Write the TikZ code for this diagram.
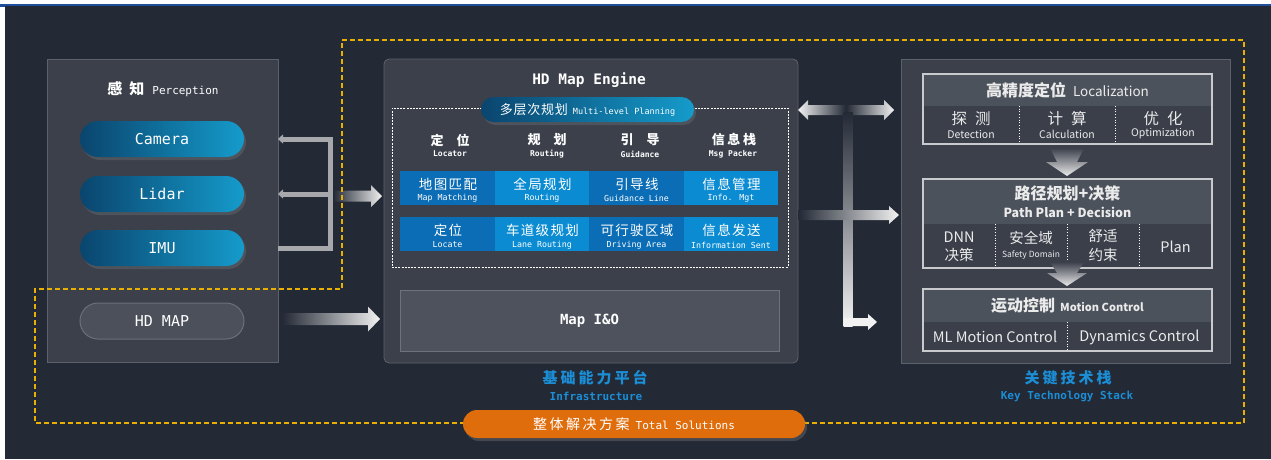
\documentclass[tikz,border=0pt]{standalone}
\usepackage{fontspec}
\setmainfont{Noto Sans CJK SC}
\newfontfamily\mono{DejaVu Sans Mono}
\usetikzlibrary{calc,shadows,arrows.meta}
\definecolor{bg}{HTML}{232935}
\definecolor{topblue}{HTML}{1F4E9A}
\definecolor{panelc}{HTML}{3B404B}
\definecolor{panelb}{HTML}{5C616B}
\definecolor{pilld}{HTML}{0A456E}
\definecolor{pilll}{HTML}{159BCB}
\definecolor{hdc}{HTML}{4B505B}
\definecolor{hdb}{HTML}{6B707A}
\definecolor{conng}{HTML}{A6A8AC}
\definecolor{arrw}{HTML}{F2F2F2}
\definecolor{celld}{HTML}{0B6DB5}
\definecolor{celll}{HTML}{0B8CD2}
\definecolor{ioc}{HTML}{4D525C}
\definecolor{iob}{HTML}{6E727B}
\definecolor{khc}{HTML}{4C525C}
\definecolor{ksc}{HTML}{3A3F4A}
\definecolor{kb}{HTML}{C8CACE}
\definecolor{ydc}{HTML}{E8B000}
\definecolor{orc}{HTML}{E06D0C}
\definecolor{bluetxt}{HTML}{1B8ED6}
\newcommand\myfs[1]{\fontsize{#1pt}{#1pt}\selectfont}
% gradient arrow pointing right: #1 start, #2 tip, #3 half shaft, #4 head length, #5 half head
\newcommand\shadearrowR[5]{\shade[left color=bg, right color=arrw]
  ($(#1)+(0,-#3)$) -- ($(#2)+(-#4,-#3)$) -- ($(#2)+(-#4,-#5)$) -- (#2) --
  ($(#2)+(-#4,#5)$) -- ($(#2)+(-#4,#3)$) -- ($(#1)+(0,#3)$) -- cycle;}
% gradient arrow pointing left
\newcommand\shadearrowL[5]{\shade[left color=arrw, right color=bg]
  ($(#1)+(0,-#3)$) -- ($(#2)+(#4,-#3)$) -- ($(#2)+(#4,-#5)$) -- (#2) --
  ($(#2)+(#4,#5)$) -- ($(#2)+(#4,#3)$) -- ($(#1)+(0,#3)$) -- cycle;}
\begin{document}
\begin{tikzpicture}[x=1pt,y=-1pt,
  every node/.style={inner sep=0pt, outer sep=0pt},
  panel/.style={draw=panelb, fill=panelc, line width=0.8pt},
  bluepill/.style={left color=pilld, right color=pilll, rounded corners=#1,
     drop shadow={shadow xshift=2pt, shadow yshift=-3pt, opacity=0.3}},
  wtext/.style={text=white},
  conn/.style={draw=conng, line width=5pt, line join=miter},
  ydash/.style={draw=ydc, line width=1.6pt, dash pattern=on 5pt off 3pt},
  cellA/.style={fill=celld, minimum width=94.5pt, minimum height=34pt},
  cellB/.style={fill=celll, minimum width=94.5pt, minimum height=34pt},
  cjkc/.style={wtext, font={\myfs{13.5}\addfontfeature{LetterSpace=10}}},
  engc/.style={wtext, font={\mono\myfs{8.3}}},
  khead/.style={fill=khc, draw=kb, line width=1pt},
  ksub/.style={fill=ksc},
  kbord/.style={draw=kb, line width=1.3pt},
  kdiv/.style={draw=white!60, dotted, line width=0.7pt},
  ktext/.style={text=white!92!black},
  chev/.style={top color=panelc, bottom color=white!92!black},
]
\useasboundingbox (0,0) rectangle (1271,459);
% background
\fill[white] (0,0) rectangle (1271,459);
\fill[bg] (5,6) rectangle (1271,459);
\fill[topblue] (0,4.3) rectangle (1271,5.6);
\fill[topblue] (0,4.3) rectangle (5,7);

% ---------------- Perception ----------------
\node[panel, minimum width=231pt, minimum height=303pt] (perc) at (162.5,210.5) {};
\node[wtext] (percT) at (163,89) {{\bfseries\myfs{15}感\hspace{7pt}知}\hspace{8pt}{\mono\myfs{11}Perception}};
\node[bluepill=18pt, minimum width=164pt, minimum height=36pt, wtext, font={\mono\myfs{15}}] (cam) at (162,139) {Camera};
\node[bluepill=18pt, minimum width=164pt, minimum height=36pt, wtext, font={\mono\myfs{15}}] (lid) at (162,194) {Lidar};
\node[bluepill=18pt, minimum width=164pt, minimum height=36pt, wtext, font={\mono\myfs{15}}] (imu) at (162,248) {IMU};
\node[draw=hdb, fill=hdc, line width=1pt, rounded corners=18pt, minimum width=164pt, minimum height=36pt, wtext, font={\mono\myfs{15}}] (hdmap) at (162,321) {HD MAP};

% bracket connectors
\coordinate (bk) at (330,0);
\draw[conn, {Triangle[width=9pt,length=5pt]}-] (perc.east |- cam) -- (bk |- cam) -- (bk |- imu) -- (perc.east |- imu);
\draw[conn, -{Triangle[width=9pt,length=5pt]}] (bk |- lid) -- (perc.east |- lid);

% ---------------- HD Map Engine ----------------
\node[panel, rounded corners=5pt, minimum width=414pt, minimum height=304pt] (eng) at (591,211) {};
\node[wtext, font={\mono\bfseries\myfs{14.5}}] (engT) at (589,80) {HD Map Engine};
\node[draw=white!75, dashed, dash pattern=on 2pt off 1.2pt, line width=0.6pt, minimum width=396pt, minimum height=159pt] (plan) at (590,187.5) {};
\node[bluepill=12.5pt, minimum width=213pt, minimum height=25pt, wtext] (planT) at (587.5,109.5) {{\myfs{13}\addfontfeature{LetterSpace=6}多层次规划}\hspace{5pt}{\mono\myfs{8.5}Multi-level Planning}};

% column headers
\node[wtext, font={\bfseries\myfs{13}}] (h1a) at (450,140) {定\hspace{13pt}位};
\node[wtext, font={\mono\bfseries\myfs{8}}] (h1b) at (450,154) {Locator};
\node[wtext, font={\bfseries\myfs{13}}] (h2a) at (547,140) {规\hspace{13pt}划};
\node[wtext, font={\mono\bfseries\myfs{8}}] (h2b) at (547,154) {Routing};
\node[wtext, font={\bfseries\myfs{13}}] (h3a) at (640,140) {引\hspace{13pt}导};
\node[wtext, font={\mono\bfseries\myfs{8}}] (h3b) at (640,154) {Guidance};
\node[wtext, font={\bfseries\myfs{13}\addfontfeature{LetterSpace=20}}] (h4a) at (734,140) {信息栈};
\node[wtext, font={\mono\bfseries\myfs{8}}] (h4b) at (733,154) {Msg Packer};

% grid
\node[cellA] (c11) at (447.5,188) {};
\node[cellB] (c12) at (542,188) {};
\node[cellA] (c13) at (636.5,188) {};
\node[cellB] (c14) at (731,188) {};
\node[cellA] (c21) at (447.5,234) {};
\node[cellB] (c22) at (542,234) {};
\node[cellA] (c23) at (636.5,234) {};
\node[cellB] (c24) at (731,234) {};

\node[cjkc] (t11a) at (448,184) {地图匹配};
\node[engc] (t11b) at (447.5,198.5) {Map Matching};
\node[cjkc] (t12a) at (542.5,184) {全局规划};
\node[engc] (t12b) at (542,198.5) {Routing};
\node[cjkc] (t13a) at (637,184) {引导线};
\node[engc] (t13b) at (636.5,198.5) {Guidance Line};
\node[cjkc] (t14a) at (731.5,184) {信息管理};
\node[engc] (t14b) at (731,198.5) {Info. Mgt};

\node[cjkc] (t21a) at (448,230.5) {定位};
\node[engc] (t21b) at (447.5,245) {Locate};
\node[cjkc] (t22a) at (542.5,230.5) {车道级规划};
\node[engc] (t22b) at (542,245) {Lane Routing};
\node[cjkc] (t23a) at (637,230.5) {可行驶区域};
\node[engc] (t23b) at (636.5,245) {Driving Area};
\node[cjkc] (t24a) at (731.5,230.5) {信息发送};
\node[engc] (t24b) at (731,245) {Information Sent};

\node[draw=iob, fill=ioc, line width=1pt, minimum width=379pt, minimum height=61pt, wtext, font={\mono\bfseries\myfs{14}}] (mio) at (589.5,320.5) {Map I\&O};

\node[text=bluetxt, font={\bfseries\myfs{15}\addfontfeature{LetterSpace=20}}] (infA) at (595,378) {基础能力平台};
\node[text=bluetxt, font={\mono\bfseries\myfs{11}}] (infB) at (596,396) {Infrastructure};

% ---------------- Key technology stack ----------------
\node[panel, minimum width=329pt, minimum height=304pt] (kts) at (1065.5,211) {};

% Localization
\node[khead, minimum width=289pt, minimum height=32pt, ktext] (loch) at (1067.5,90) {{\bfseries\myfs{16}高精度定位}\hspace{7pt}{\myfs{13.5}Localization}};
\node[ksub, minimum width=289pt, minimum height=38pt] (locs) at (1067.5,125) {};
\draw[kdiv] ($(locs.north west)!1/3!(locs.north east)$) -- ($(locs.south west)!1/3!(locs.south east)$);
\draw[kdiv] ($(locs.north west)!2/3!(locs.north east)$) -- ($(locs.south west)!2/3!(locs.south east)$);
\draw[kbord] (loch.north west) rectangle (locs.south east);
\node[ktext, font={\myfs{15.5}}] (l1a) at (971,118.5) {探\hspace{8pt}测};
\node[ktext, font={\myfs{10.5}}] (l1b) at (971,134) {Detection};
\node[ktext, font={\myfs{15.5}}] (l2a) at (1067,118.5) {计\hspace{8pt}算};
\node[ktext, font={\myfs{10.5}}] (l2b) at (1067,134) {Calculation};
\node[ktext, font={\myfs{15.5}}] (l3a) at (1163,118.5) {优\hspace{8pt}化};
\node[ktext, font={\myfs{10.5}}] (l3b) at (1163,134) {Optimization};

% chevron 1
\coordinate (ch1) at (1067,176);
\shade[chev] ($(ch1)+(-17,-28)$) -- ($(ch1)+(17,-28)$) -- ($(ch1)+(10,-14)$) -- ($(ch1)+(21,-14)$) -- (ch1) -- ($(ch1)+(-21,-14)$) -- ($(ch1)+(-10,-14)$) -- cycle;

% Path plan
\node[khead, minimum width=289pt, minimum height=45pt] (pathh) at (1067.5,201.5) {};
\node[ktext, font={\bfseries\myfs{16}}] (pathA) at (1067.5,193) {路径规划+决策};
\node[ktext, font={\bfseries\myfs{12.5}}] (pathB) at (1067.5,212) {Path Plan + Decision};
\node[ksub, minimum width=289pt, minimum height=44pt] (paths) at (1067.5,246) {};
\draw[kdiv] ($(paths.north west)!1/4!(paths.north east)$) -- ($(paths.south west)!1/4!(paths.south east)$);
\draw[kdiv] ($(paths.north west)!2/4!(paths.north east)$) -- ($(paths.south west)!2/4!(paths.south east)$);
\draw[kdiv] ($(paths.north west)!3/4!(paths.north east)$) -- ($(paths.south west)!3/4!(paths.south east)$);
\draw[kbord] (pathh.north west) rectangle (paths.south east);
\node[ktext, font={\myfs{14.5}}] (p1a) at (959,237) {DNN};
\node[ktext, font={\myfs{14.5}}] (p1b) at (959,255) {决策};
\node[ktext, font={\myfs{14.5}}] (p2a) at (1031,238) {安全域};
\node[ktext, font={\myfs{8.5}}] (p2b) at (1031,255) {Safety Domain};
\node[ktext, font={\myfs{14.5}}] (p3a) at (1103,236) {舒适};
\node[ktext, font={\myfs{14.5}}] (p3b) at (1103,255) {约束};
\node[ktext, font={\myfs{14.5}}] (p4a) at (1175.5,246.5) {Plan};

% chevron 2
\coordinate (ch2) at (1067,286);
\shade[chev] ($(ch2)+(-17,-24)$) -- ($(ch2)+(17,-24)$) -- ($(ch2)+(10,-13)$) -- ($(ch2)+(20,-13)$) -- (ch2) -- ($(ch2)+(-20,-13)$) -- ($(ch2)+(-10,-13)$) -- cycle;

% Motion control
\node[khead, minimum width=289pt, minimum height=33pt, ktext] (moth) at (1067.5,305.5) {{\bfseries\myfs{16}运动控制}\hspace{5pt}{\bfseries\myfs{11}Motion Control}};
\node[ksub, minimum width=289pt, minimum height=29pt] (mots) at (1067.5,336.5) {};
\draw[kdiv] ($(mots.north west)!1/2!(mots.north east)$) -- ($(mots.south west)!1/2!(mots.south east)$);
\draw[kbord] (moth.north west) rectangle (mots.south east);
\node[ktext, font={\myfs{14.5}}] (m1) at (995,337) {ML Motion Control};
\node[ktext, font={\myfs{14.5}}] (m2) at (1139.5,337) {Dynamics Control};

\node[text=bluetxt, font={\bfseries\myfs{15}\addfontfeature{LetterSpace=20}}] (ktA) at (1068,378) {关键技术栈};
\node[text=bluetxt, font={\mono\bfseries\myfs{11}}] (ktB) at (1067,396) {Key Technology Stack};

% ---------------- arrows ----------------
\coordinate (pa1) at (333,196);
\coordinate (pa2) at (382,196);
\shadearrowR{pa1}{pa2}{5.5}{11}{11}
\coordinate (ha1) at (282,319);
\coordinate (ha2) at (380,319);
\shadearrowR{ha1}{ha2}{6}{12}{12.5}

% double arrow engine <-> key tech
\coordinate (da0) at (846,110);
\coordinate (daL) at (eng.east |- da0);
\coordinate (daR) at (894,110);
\shadearrowL{da0}{daL}{5}{10}{10}
\shadearrowR{da0}{daR}{5}{10}{10}
% vertical L arrow
\coordinate (vt) at (848,112);
\coordinate (vb) at (848,322);
\coordinate (vtip) at (877,322);
\shade[top color=bg, bottom color=arrw] ($(vt)+(-4.5,0)$) rectangle ($(vb)+(4.5,4)$);
\fill[arrw] ($(vb)+(-4.5,-4)$) -- ($(vtip)+(-9,-4)$) -- ($(vtip)+(-9,-8)$) -- (vtip) -- ($(vtip)+(-9,8)$) -- ($(vtip)+(-9,4)$) -- ($(vb)+(-4.5,4)$) -- cycle;
% middle arrow
\coordinate (ma1) at (eng.east |- 0,215);
\coordinate (ma2) at (899,215);
\shadearrowR{ma1}{ma2}{5}{10}{9}

% ---------------- Total solutions ----------------
\draw[ydash] (342,40) -- (1244,40) -- (1244,423) -- (35,423) -- (35,289) -- (342,289) -- cycle;
\node[fill=orc, rounded corners=14pt, minimum width=342pt, minimum height=28pt, wtext,
  drop shadow={shadow xshift=2pt, shadow yshift=-3pt, opacity=0.35}] (tot) at (634,424)
  {{\myfs{14}\addfontfeature{LetterSpace=18}整体解决方案}\hspace{6pt}{\mono\myfs{11}Total Solutions}};
\end{tikzpicture}
\end{document}
